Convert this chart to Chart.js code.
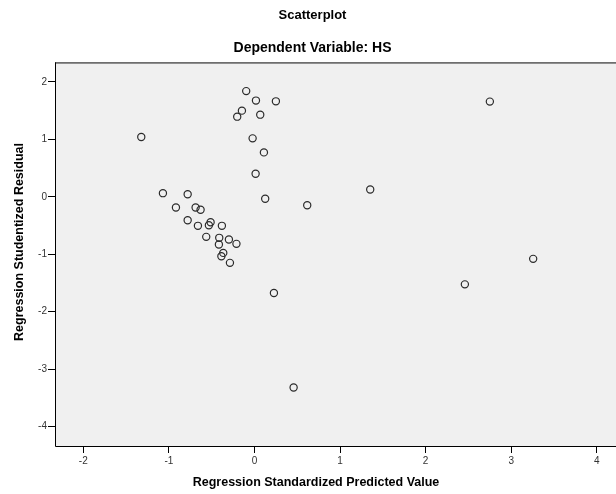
<!DOCTYPE html>
<html>
<head>
<meta charset="utf-8">
<script src="https://cdn.jsdelivr.net/npm/chart.js@4/dist/chart.umd.min.js"></script>
<style>
  html, body { margin: 0; padding: 0; background: #ffffff; overflow: hidden; }
  #wrap { width: 632px; height: 494px; position: relative; }
</style>
</head>
<body>
<div id="wrap"><canvas id="c"></canvas></div>
<script>
// ---- Data ----
const chartTitle = "Scatterplot";
const chartSubtitle = "Dependent Variable: HS";
const xAxisTitle = "Regression Standardized Predicted Value";
const yAxisTitle = "Regression Studentized Residual";

// Regression standardized predicted values
const predicted = [
  -0.096, 0.018, 0.251, -0.146, -0.201, 0.068, -0.021, 0.111, 0.014, 0.126,
  0.617, 1.353, -1.322, -1.069, -0.780, -0.917, -0.687, -0.629, -0.780, -0.660,
  -0.512, -0.532, -0.380, -0.563, -0.411, -0.415, -0.298, -0.210, -0.364, -0.386,
  -0.286, 0.228, 0.458, 2.751, 3.257, 2.459
];
// Regression studentized residuals
const residual = [
  1.84, 1.675, 1.662, 1.50, 1.395, 1.43, 1.017, 0.773, 0.401, -0.035,
  -0.147, 0.127, 1.04, 0.063, 0.045, -0.187, -0.187, -0.227, -0.408, -0.506,
  -0.443, -0.495, -0.506, -0.698, -0.715, -0.832, -0.745, -0.820, -0.977, -1.036,
  -1.151, -1.675, -3.321, 1.657, -1.081, -1.525
];
const xTicks = [-2, -1, 0, 1, 2, 3, 4];
const yTicks = [-4, -3, -2, -1, 0, 1, 2];

const points = predicted.map((x, i) => ({ x: x, y: residual[i] }));
const FONT = '"Liberation Sans", Arial, sans-serif';

const plotFrame = {
  id: 'plotFrame',
  beforeDraw(chart) {
    const { ctx, chartArea: a } = chart;
    ctx.save();
    ctx.fillStyle = '#f0f0f0';
    ctx.fillRect(a.left, a.top, a.right - a.left, a.bottom - a.top);
    ctx.restore();
  },
  afterDatasetsDraw(chart) {
    const { ctx, chartArea: a } = chart;
    ctx.save();
    ctx.strokeStyle = '#6e6e6e';
    ctx.lineWidth = 1.6;
    ctx.beginPath();
    ctx.moveTo(a.left, a.top + 0.5);
    ctx.lineTo(a.right, a.top + 0.5);
    ctx.moveTo(a.right - 0.5, a.top);
    ctx.lineTo(a.right - 0.5, a.bottom);
    ctx.stroke();
    ctx.strokeStyle = '#000000';
    ctx.lineWidth = 1;
    ctx.beginPath();
    ctx.moveTo(a.left + 0.5, a.top);
    ctx.lineTo(a.left + 0.5, a.bottom + 0.5);
    ctx.lineTo(a.right, a.bottom + 0.5);
    ctx.stroke();
    ctx.restore();
  },
  afterDraw(chart) {
    const { ctx } = chart;
    ctx.save();
    ctx.fillStyle = '#000000';
    ctx.font = 'bold 12.5px ' + FONT;
    ctx.textAlign = 'center';
    ctx.textBaseline = 'middle';
    ctx.fillText(xAxisTitle, 316, 483);
    ctx.translate(20, 242);
    ctx.rotate(-Math.PI / 2);
    ctx.fillText(yAxisTitle, 0, 0);
    ctx.restore();
  }
};

new Chart(document.getElementById('c'), {
  type: 'scatter',
  data: {
    datasets: [{
      data: points,
      showLine: false,
      pointStyle: 'circle',
      pointRadius: 3.6,
      pointHoverRadius: 3.6,
      pointBackgroundColor: 'rgba(0,0,0,0)',
      pointBorderColor: '#2b2b2b',
      pointBorderWidth: 1.2
    }]
  },
  options: {
    responsive: true,
    maintainAspectRatio: false,
    animation: false,
    layout: { padding: { left: 0, right: 7, top: 0, bottom: 0 } },
    plugins: {
      legend: { display: false },
      tooltip: { enabled: false },
      title: {
        display: true,
        text: chartTitle,
        color: '#000000',
        font: { family: FONT, size: 13, weight: 'bold' },
        padding: { top: 8, bottom: 16 }
      },
      subtitle: {
        display: true,
        text: chartSubtitle,
        color: '#000000',
        font: { family: FONT, size: 14, weight: 'bold' },
        padding: { top: 0, bottom: 6 }
      }
    },
    scales: {
      x: {
        type: 'linear',
        min: -2.33,
        max: 4.33,
        afterBuildTicks(scale) { scale.ticks = xTicks.map(v => ({ value: v })); },
        afterFit(scale) { scale.height = 48; },
        border: { display: false },
        grid: { drawOnChartArea: false, drawTicks: true, tickLength: 7, color: '#000000', lineWidth: 1 },
        ticks: {
          color: '#333333',
          font: { family: FONT, size: 10 },
          padding: 2,
          maxRotation: 0
        }
      },
      y: {
        type: 'linear',
        min: -4.34,
        max: 2.34,
        afterBuildTicks(scale) { scale.ticks = yTicks.map(v => ({ value: v })); },
        afterFit(scale) { scale.width = 55; },
        border: { display: false },
        grid: { drawOnChartArea: false, drawTicks: true, tickLength: 7, color: '#000000', lineWidth: 1 },
        ticks: {
          color: '#333333',
          font: { family: FONT, size: 10 },
          padding: 1
        }
      }
    }
  },
  plugins: [plotFrame]
});
</script>
</body>
</html>
